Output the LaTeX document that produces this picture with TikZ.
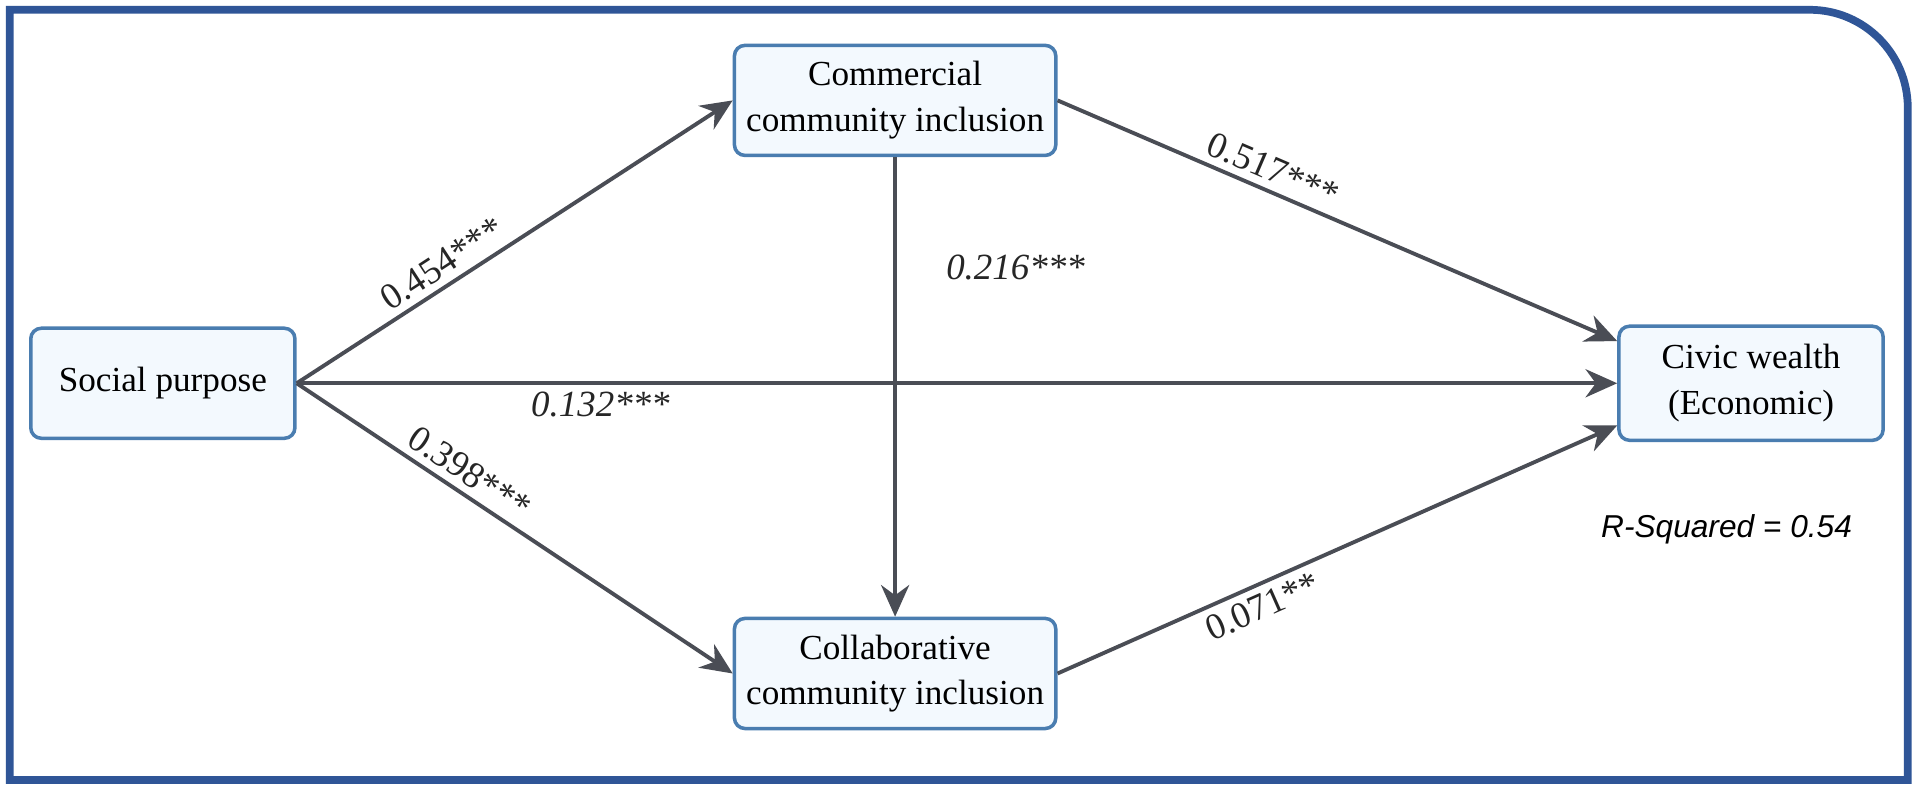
\documentclass[tikz,border=0pt]{standalone}
\usepackage{fontspec}
\setmainfont{Liberation Serif}
\newfontfamily\labelsans{Liberation Sans}
\usetikzlibrary{arrows.meta, positioning}
\definecolor{framecol}{HTML}{2F5597}
\definecolor{boxdraw}{HTML}{4A7DB0}
\definecolor{boxfill}{HTML}{F3F9FE}
\definecolor{arrowcol}{HTML}{4A4D55}

\begin{document}
\begin{tikzpicture}[
    x=0.012245cm, y=-0.012245cm,
    % boxes
    varbox/.style={rectangle, rounded corners=3pt, draw=boxdraw, line width=1pt, fill=boxfill, minimum width=2.64cm, minimum height=1.1cm, align=center, font=\fontsize{10}{13}\selectfont},
    % paths
    pathline/.style={draw=arrowcol, line width=1.1pt, -{Stealth[length=9pt,width=8pt]}},
    coef/.style={font=\fontsize{10.5}{12}\selectfont, text=black!85, inner sep=2pt},
    coefit/.style={coef, font=\fontsize{10.5}{12}\selectfont\itshape}
]
    \useasboundingbox (0,0) rectangle (1568,646);
    \fill[white] (0,0) rectangle (1568,646);

    % Frame
    \draw[framecol, line width=2.2pt] (8,637) -- (8,8) -- (1478,8) arc[start angle=-90, end angle=0, radius=80] -- (1558,637) -- cycle;

    % Variables
    \node[varbox] (social) at (133,313) {Social purpose};
    \node[varbox, minimum width=3.16cm] (commercial) at (731,82) {Commercial\\community inclusion};
    \node[varbox, minimum width=3.16cm] (collab) at (731,550) {Collaborative\\community inclusion};
    \node[varbox, minimum height=1.14cm] (civic) at (1430,313) {Civic wealth\\(Economic)};

    % Paths
    \draw[pathline] (social.east) -- node[coef, sloped, above, pos=0.36] {0.454***} (commercial.west);
    \draw[pathline] (social.east) -- node[coef, sloped, above, pos=0.37] {0.398***} (collab.west);
    \draw[pathline] (social.east) -- node[coefit, below, pos=0.23] {0.132***} (civic.west);
    \draw[pathline] (commercial.south) -- node[coefit, right=12pt, pos=0.24] {0.216***} (collab.north);
    \draw[pathline] (commercial.east) -- node[coef, sloped, above, pos=0.37] {0.517***} ([yshift=12]civic.west);
    \draw[pathline] (collab.east) -- node[coef, sloped, below, pos=0.35] {0.071**} ([yshift=-12]civic.west);

    % Fit
    \node[font=\labelsans\fontsize{9}{11}\selectfont\itshape] (rsq) at (1410,432) {R-Squared = 0.54};
\end{tikzpicture}
\end{document}
